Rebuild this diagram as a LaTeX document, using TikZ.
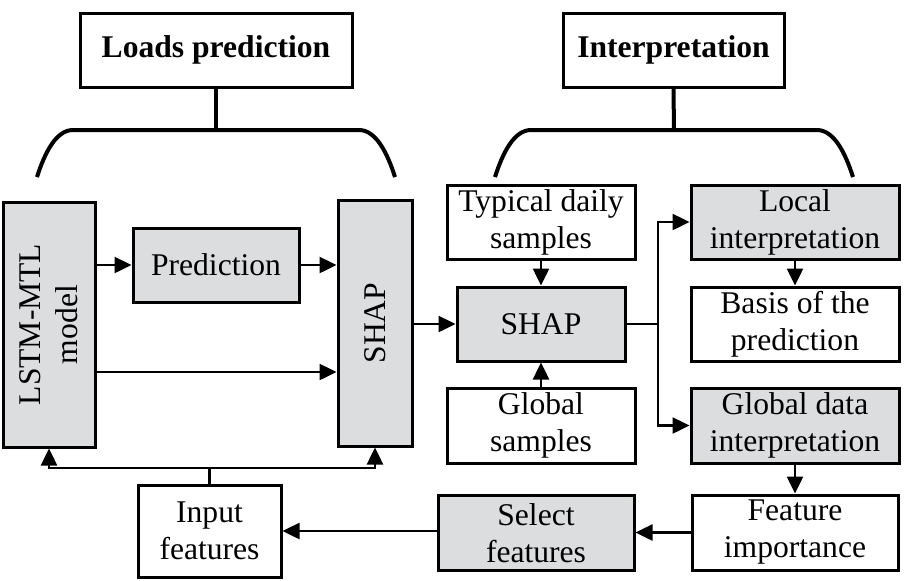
\documentclass[tikz,border=0pt]{standalone}
\usepackage{fontspec}
\setmainfont{Liberation Serif}
\usetikzlibrary{arrows.meta,calc}
\definecolor{boxgray}{RGB}{220,221,223}
\begin{document}
\begin{tikzpicture}[x=0.5pt,y=-0.5pt,
  base/.style={draw=black, line width=1.5pt, inner sep=0pt, align=center,
    font=\fontsize{15.8}{18.5}\selectfont},
  wbox/.style={base, fill=white},
  gbox/.style={base, fill=boxgray},
  title/.style={base, fill=white, font=\fontsize{15.8}{18.5}\selectfont\bfseries},
  arr/.style={line width=1.25pt, -{Triangle[length=8.5pt,width=8pt]}},
  ln/.style={line width=1.25pt},
  brace/.style={line width=2pt}]
\useasboundingbox (0,0) rectangle (912,580);

% headings
\node[title, minimum width=136pt, minimum height=37pt] (loads) at (216,50) {Loads prediction};
\node[title, minimum width=110.5pt, minimum height=37pt] (interp) at (673.5,50) {Interpretation};

% braces
\coordinate (lb1) at (37,177); \coordinate (lb2) at (72,130);
\coordinate (lb3) at (360,130); \coordinate (lb4) at (395,177);
\coordinate (lbs) at (216,130);
\draw[brace] (lb1) .. controls (45,152) and (56,131) .. (lb2) -- (lb3)
  .. controls (376,131) and (387,152) .. (lb4);
\draw[brace] (loads.south) -- (lbs);
\coordinate (rb1) at (495,177); \coordinate (rb2) at (530,130);
\coordinate (rb3) at (818,130); \coordinate (rb4) at (853,177);
\coordinate (rbs) at (674,130);
\draw[brace] (rb1) .. controls (503,152) and (514,131) .. (rb2) -- (rb3)
  .. controls (834,131) and (845,152) .. (rb4);
\draw[brace] (interp.south) -- (rbs);

% left part (rotated boxes: north = left side, south = right side, west = bottom)
\node[gbox, rotate=90, minimum width=122.5pt, minimum height=46pt] (lstm) at (49,324.5) {LSTM-MTL\\model};
\node[gbox, minimum width=83pt, minimum height=37pt] (pred) at (216,265) {Prediction};
\node[gbox, rotate=90, minimum width=123pt, minimum height=37pt] (shapv) at (375,323) {SHAP};
\node[wbox, minimum width=71.5pt, minimum height=46pt] (inp) at (209.5,531) {Input\\features};

% middle
\node[wbox, minimum width=94pt, minimum height=37pt] (typ) at (541,222) {Typical daily\\samples};
\node[gbox, minimum width=84pt, minimum height=37pt] (shapm) at (541,324) {SHAP};
\node[wbox, minimum width=94pt, minimum height=37.5pt] (glob) at (541,425.5) {Global\\samples};
\node[gbox, minimum width=98pt, minimum height=37.5pt] (sel) at (536,533) {Select\\features};

% right
\node[gbox, minimum width=104pt, minimum height=37pt] (local) at (795,222) {Local\\interpretation};
\node[wbox, minimum width=104pt, minimum height=37pt] (basis) at (795,324) {Basis of the\\prediction};
\node[gbox, minimum width=104pt, minimum height=37.5pt] (gdi) at (795,425.5) {Global data\\interpretation};
\node[wbox, minimum width=103pt, minimum height=37.5pt] (fi) at (795,532.5) {Feature\\importance};

% connectors
\draw[arr] (lstm.south |- pred.west) -- (pred.west);
\draw[arr] (pred.east) -- (shapv.north |- pred.east);
\coordinate (lo) at ($(lstm.south |- 0,372)$);
\coordinate (so) at ($(shapv.north |- 0,372)$);
\draw[arr] (lo) -- (so);
\draw[arr] (shapv.south |- shapm.west) -- (shapm.west);
\draw[arr] (typ.south) -- (shapm.north);
\draw[arr] (glob.north) -- (shapm.south);
\coordinate (br) at (658,324);
\draw[ln] (shapm.east) -- (br);
\draw[arr] (br) |- (local.west);
\draw[arr] (br) |- (gdi.west);
\draw[arr] (local.south) -- (basis.north);
\draw[arr] (gdi.south) -- (fi.north);
\draw[arr] (fi.west) -- (sel.east |- fi.west);
\draw[arr] (sel.west |- inp.east) -- (inp.east);
\coordinate (fb) at (209.5,468);
\draw[ln] (inp.north) -- (fb);
\draw[arr] (fb) -| (lstm.west);
\draw[arr] (fb) -| (shapv.west);
\end{tikzpicture}
\end{document}
